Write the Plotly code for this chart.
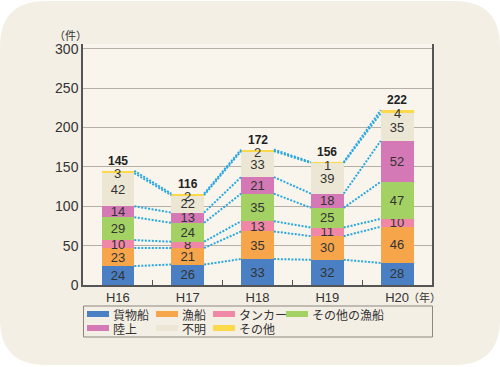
import plotly.graph_objects as go

categories = ["H16", "H17", "H18", "H19", "H20"]
series_names = ["貨物船", "漁船", "タンカー", "その他の漁船", "陸上", "不明", "その他"]
cargo = [24, 26, 33, 32, 28]
fishing = [23, 21, 35, 30, 46]
tanker = [10, 8, 13, 11, 10]
other_fishing = [29, 24, 35, 25, 47]
land = [14, 13, 21, 18, 52]
unknown = [42, 22, 33, 39, 35]
other = [3, 2, 2, 1, 4]
totals = [145, 116, 172, 156, 222]
y_ticks = [0, 50, 100, 150, 200, 250, 300]

series_values = [cargo, fishing, tanker, other_fishing, land, unknown, other]
colors = ["#4a7fc4", "#f7a54b", "#f087a6", "#a3d164", "#d479b5", "#ece7d5", "#fbd94b"]

W, H = 500, 367
ML, MR, MT, MB = 83, 68, 44, 82
PW, PH = W - ML - MR, H - MT - MB

def px(x):
    return (x - ML) / PW

def py(y):
    return (H - MB - y) / PH

FONT = "Liberation Sans, Arial, Noto Sans CJK JP, sans-serif"
JFONT = "Noto Sans CJK JP, sans-serif"
xs = list(range(len(categories)))
bw = 0.47

fig = go.Figure()
for name, vals, col in zip(series_names, series_values, colors):
    is_other = name == "その他"
    fig.add_trace(go.Bar(
        x=xs, y=vals, name=name, width=bw,
        marker=dict(color=col, line=dict(width=0)),
        text=None if is_other else [str(v) for v in vals],
        textposition="inside", insidetextanchor="middle", textangle=0,
        constraintext="none",
        textfont=dict(family=FONT, size=13, color="#333333"),
        showlegend=False, hoverinfo="skip",
    ))

# dotted connector lines between bars at every cumulative boundary
cum = [[0] * len(categories)]
for vals in series_values:
    cum.append([a + b for a, b in zip(cum[-1], vals)])
for level in cum[1:]:
    for i in range(len(categories) - 1):
        fig.add_trace(go.Scatter(
            x=[i + bw / 2, i + 1 - bw / 2], y=[level[i], level[i + 1]],
            mode="lines", line=dict(color="#2aa7e0", width=2, dash="2px,1.5px"),
            showlegend=False, hoverinfo="skip",
        ))

annotations = []
for i, (o, t) in enumerate(zip(other, totals)):
    annotations.append(dict(x=i, y=t, xref="x", yref="y", text=str(o), showarrow=False,
                            xanchor="center", yanchor="middle", yshift=-3,
                            font=dict(family=FONT, size=13, color="#333333")))
    annotations.append(dict(x=i, y=t, xref="x", yref="y", text="<b>%d</b>" % t, showarrow=False,
                            xanchor="center", yanchor="middle", yshift=10,
                            font=dict(family=FONT, size=12, color="#222222")))

annotations.append(dict(x=px(70), y=py(35), xref="paper", yref="paper", text="（件）",
                        xanchor="center", yanchor="middle", showarrow=False,
                        font=dict(family=JFONT, size=11, color="#333333")))
annotations.append(dict(x=px(406), y=py(297), xref="paper", yref="paper", text="（年）",
                        xanchor="left", yanchor="middle", showarrow=False,
                        font=dict(family=JFONT, size=11, color="#333333")))

shapes = []
# rounded background
x0, y0, x1, y1, r = 0, 1, 500, 365, 46
pts = ("M {a},{b} L {c},{b} Q {x1},{b} {x1},{d} L {x1},{e} Q {x1},{y1} {c},{y1} "
       "L {a},{y1} Q {x0},{y1} {x0},{e} L {x0},{d} Q {x0},{b} {a},{b} Z")
path = pts.format(a=px(x0 + r), b=py(y0), c=px(x1 - r), d=py(y0 + r), e=py(y1 - r),
                  x0=px(x0), x1=px(x1), y1=py(y1))
shapes.append(dict(type="path", xref="paper", yref="paper", path=path,
                   fillcolor="#f4efe5", line=dict(width=0), layer="below"))
shapes.append(dict(type="rect", xref="paper", yref="paper", x0=0, x1=1, y0=0, y1=1,
                   fillcolor="#f9f5ed", line=dict(width=0), layer="below"))

# manual legend
shapes.append(dict(type="rect", xref="paper", yref="paper", x0=px(83.5), x1=px(432.5),
                   y0=py(337), y1=py(306), fillcolor="rgba(0,0,0,0)",
                   line=dict(color="#8a8680", width=1)))
leg_pos = [(87, 314), (156, 314), (213, 314), (286, 314), (87, 328), (156, 328), (213, 328)]
for (lx, ly), name, col in zip(leg_pos, series_names, colors):
    shapes.append(dict(type="rect", xref="paper", yref="paper", x0=px(lx), x1=px(lx + 22),
                       y0=py(ly + 3), y1=py(ly - 3), fillcolor=col, line=dict(width=0)))
    annotations.append(dict(x=px(lx + 24), y=py(ly), xref="paper", yref="paper", text=name,
                            xanchor="left", yanchor="middle", showarrow=False,
                            font=dict(family=JFONT, size=12, color="#333333")))

fig.update_layout(
    width=W, height=H,
    margin=dict(l=ML, r=MR, t=MT, b=MB),
    paper_bgcolor="#ffffff", plot_bgcolor="rgba(0,0,0,0)",
    barmode="stack", showlegend=False,
    uniformtext=dict(minsize=13, mode="show"),
    annotations=annotations, shapes=shapes,
    xaxis=dict(range=[-0.5, 4.5], tickvals=xs, ticktext=categories, showgrid=False,
               zeroline=False, showline=True, linecolor="#555555", linewidth=1.5,
               ticks="", tickfont=dict(family=FONT, size=13, color="#333333"),
               minor=dict(tickvals=[0.5, 1.5, 2.5, 3.5], ticks="inside", ticklen=5,
                          tickcolor="#555555", tickwidth=1, showgrid=False)),
    yaxis=dict(range=[0, 306], tickvals=y_ticks, showgrid=True, gridcolor="#b4b0a8",
               gridwidth=1, zeroline=False, showline=True, mirror=True,
               linecolor="#555555", linewidth=1.5, ticks="",
               tickfont=dict(family=FONT, size=14, color="#333333")),
)

fig.write_html("out.html", config={"displayModeBar": False},
               post_script="document.body.style.margin='0';document.body.style.padding='0';")
